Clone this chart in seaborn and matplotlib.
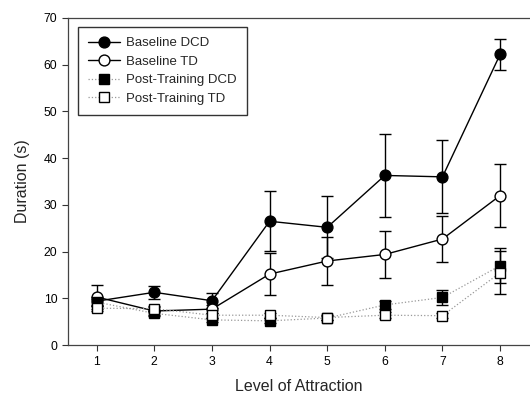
import numpy as np
import pandas as pd
import matplotlib
matplotlib.use("Agg")
import matplotlib.pyplot as plt
import seaborn as sns

levels = [1, 2, 3, 4, 5, 6, 7, 8]

baseline_dcd = [9.4, 11.3, 9.5, 26.5, 25.2, 36.3, 36.0, 62.2]
baseline_dcd_err = [1.0, 1.4, 1.6, 6.4, 6.6, 8.9, 7.8, 3.3]

baseline_td = [10.3, 7.3, 7.7, 15.2, 18.0, 19.4, 22.7, 32.0]
baseline_td_err = [2.6, 0.8, 0.8, 4.5, 5.2, 5.1, 4.9, 6.7]

post_dcd = [9.2, 6.8, 5.4, 5.2, 5.8, 8.6, 10.2, 17.0]
post_dcd_err = [0.6, 0.6, 0.5, 0.5, 0.5, 0.8, 1.7, 3.7]

post_td = [7.9, 7.8, 6.4, 6.4, 5.9, 6.4, 6.3, 15.5]
post_td_err = [0.5, 0.5, 0.5, 0.5, 0.5, 0.6, 0.6, 4.6]

series = [
    ("Baseline DCD", baseline_dcd, baseline_dcd_err),
    ("Baseline TD", baseline_td, baseline_td_err),
    ("Post-Training DCD", post_dcd, post_dcd_err),
    ("Post-Training TD", post_td, post_td_err),
]

rows = []
for name, vals, errs in series:
    for lv, v, e in zip(levels, vals, errs):
        rows.append({"level": lv, "duration": v, "err": e, "group": name})
df = pd.DataFrame(rows)

sns.set_style("ticks")
plt.rcParams["font.family"] = ["Liberation Sans", "DejaVu Sans"]

fig = plt.figure(figsize=(5.3, 4.07), dpi=100)
ax = fig.add_axes([0.128, 0.152, 0.870, 0.804])

styles = {
    "Baseline DCD": dict(marker="o", mfc="black", ls="-", color="black", ms=7.8, lw=1.0),
    "Baseline TD": dict(marker="o", mfc="white", ls="-", color="black", ms=7.8, lw=1.0),
    "Post-Training DCD": dict(marker="s", mfc="black", ls=":", color="#999999", ms=6.5, lw=0.9),
    "Post-Training TD": dict(marker="s", mfc="white", ls=":", color="#999999", ms=6.5, lw=0.9),
}

for i, (name, vals, errs) in enumerate(series):
    st = styles[name]
    sub = df[df["group"] == name]
    ax.errorbar(sub["level"], sub["duration"], yerr=sub["err"], fmt="none",
                ecolor="black", elinewidth=1.0, capsize=4, capthick=1.0, zorder=2 + i)
    sns.lineplot(data=sub, x="level", y="duration", ax=ax, color=st["color"],
                 linestyle=st["ls"], linewidth=st["lw"], marker=st["marker"],
                 markersize=st["ms"], markerfacecolor=st["mfc"],
                 markeredgecolor="black", markeredgewidth=1.0,
                 label=name, zorder=3 + i, errorbar=None)

ax.set_xlim(0.5, 8.5)
ax.set_ylim(0, 70)
ax.set_xticks(levels)
ax.set_yticks(np.arange(0, 71, 10))
ax.tick_params(axis="both", labelsize=8.8, direction="out", length=4, width=0.8, colors="#333333")
ax.tick_params(axis="both", labelcolor="black")
ax.set_xlabel("Level of Attraction", fontsize=11.5, labelpad=8)
ax.set_ylabel("Duration (s)", fontsize=11.5, labelpad=10)

for s in ["left", "bottom", "top"]:
    ax.spines[s].set_color("#444444")
    ax.spines[s].set_linewidth(0.9)
ax.spines["right"].set_visible(False)

leg = ax.legend(loc="upper left", bbox_to_anchor=(0.022, 0.972), borderaxespad=0,
                fontsize=9.5, frameon=True, fancybox=False, edgecolor="black",
                handlelength=2.4, borderpad=0.75, labelspacing=0.48, handletextpad=0.5)
leg.get_frame().set_linewidth(1.0)

fig.savefig("out.png", dpi=100)
